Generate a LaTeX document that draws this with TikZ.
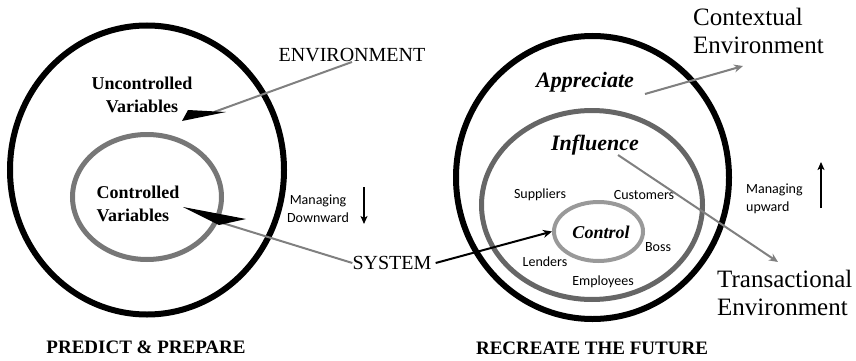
\documentclass[tikz,border=0pt]{standalone}
\usepackage{fontspec}
\setmainfont{Liberation Serif}
\newfontfamily\labelfont{Carlito}
\usetikzlibrary{shapes.geometric,arrows.meta}

\definecolor{ringgray}{HTML}{777777}
\definecolor{middlegray}{HTML}{666666}
\definecolor{lightring}{HTML}{999999}
\definecolor{linegray}{HTML}{808080}

\begin{document}
\begin{tikzpicture}[x=1pt, y=-1pt,
      every node/.style={inner sep=0pt, align=center},
      ring/.style={ellipse, draw, inner sep=0pt},
      bigring/.style={ring, draw=black, line width=6pt},
      plain/.style={font=\fontsize{20}{24}\selectfont},
      caption/.style={font=\bfseries\fontsize{19}{23}\selectfont},
      variables/.style={font=\bfseries\fontsize{18}{23}\selectfont},
      zone/.style={font=\bfseries\itshape\fontsize{22}{26}\selectfont},
      party/.style={font=\labelfont\fontsize{14}{18}\selectfont},
      envlabel/.style={font=\fontsize{25}{28}\selectfont, align=left, anchor=west},
      pointer/.style={draw=linegray, line width=2pt},
      grayarrow/.style={pointer, -{Stealth[length=9pt, width=8pt]}},
      manage/.style={line width=2pt, -{Stealth[length=8pt, width=7pt, inset=2pt]}} ]
  \useasboundingbox (0,0) rectangle (856,361);

  % left: predict & prepare
  \node[bigring, minimum width=274, minimum height=289] (outerL) at (147,170) {};
  \node[ring, draw=ringgray, line width=5pt, minimum width=149, minimum height=125] (innerL) at (147,197) {};
  \node[variables] (unctrl) at (142,95) {Uncontrolled\\Variables};
  \node[variables, align=left] (ctrl) at (138,204) {Controlled\\Variables};
  \node[plain] (env) at (352,55) {ENVIRONMENT};
  \node[plain] (sys) at (392,263) {SYSTEM};
  \node[party] (down) at (318,209) {Managing\\Downward};
  \node[caption] (predict) at (146,347) {PREDICT \& PREPARE};

  \coordinate (envjoin) at (214,112);
  \coordinate (sysjoin) at (216,221);
  \draw[pointer] (env.south) -- (envjoin);
  \fill (182,121) -- (188,110) -- (226,112) -- cycle;
  \draw[pointer] (sys.west) -- (sysjoin);
  \fill (183,207) -- (246,219) -- (219,225) -- cycle;

  \coordinate (downtop) at (364,187);
  \coordinate (downend) at (364,224);
  \draw[manage] (downtop) -- (downend);

  % right: recreate the future
  \node[bigring, minimum width=273, minimum height=283] (outerR) at (592.5,177.5) {};
  \node[ring, draw=middlegray, line width=5pt, minimum width=221, minimum height=189] (midR) at (592,205) {};
  \node[ring, draw=lightring, line width=4pt, minimum width=89, minimum height=59] (ctrlring) at (598.5,231.5) {};
  \node[zone] (appr) at (585,82) {Appreciate};
  \node[zone] (infl) at (595,145) {Influence};
  \node[font=\bfseries\itshape\fontsize{18}{22}\selectfont] (control) at (601,232) {Control};
  \node[party] (suppl) at (540,195) {Suppliers};
  \node[party] (cust) at (644,195) {Customers};
  \node[party] (boss) at (658,247) {Boss};
  \node[party] (lend) at (545,262) {Lenders};
  \node[party] (empl) at (603,282) {Employees};
  \node[party, align=left, anchor=west] (up) at (746,199) {Managing\\upward};
  \node[envlabel] (ctx) at (693,31) {Contextual\\Environment};
  \node[envlabel] (trans) at (717,293) {Transactional\\Environment};
  \node[caption] (recreate) at (592,348) {RECREATE THE FUTURE};

  \coordinate (apprstart) at (645,94);
  \coordinate (ctxend) at (743,66);
  \coordinate (inflstart) at (618,155);
  \coordinate (transend) at (778,262);
  \draw[grayarrow] (apprstart) -- (ctxend);
  \draw[grayarrow] (inflstart) -- (transend);
  \draw[line width=2pt, -{Stealth[length=9pt, width=8pt]}] ([xshift=4pt]sys.east) -- (ctrlring.west);

  \coordinate (upbottom) at (821,208);
  \coordinate (upend) at (821,162);
  \draw[manage] (upbottom) -- (upend);
\end{tikzpicture}
\end{document}
